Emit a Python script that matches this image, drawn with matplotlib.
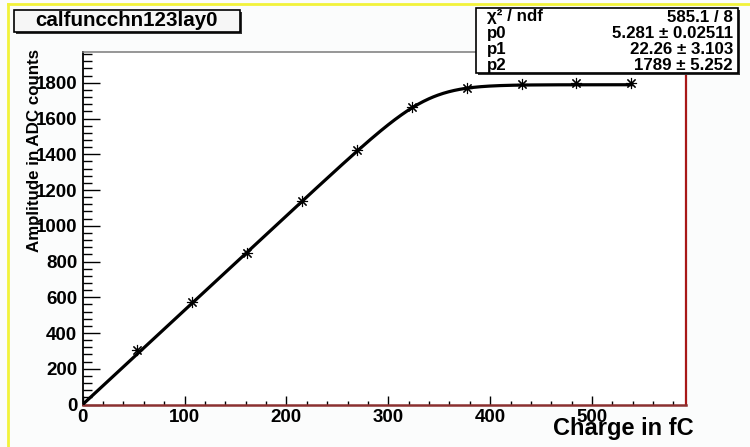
import numpy as np
import matplotlib.pyplot as plt
from matplotlib.patches import Rectangle
from matplotlib.lines import Line2D

# measured calibration points
charge = [53.8, 107.7, 161.5, 215.4, 269.2, 323.1, 376.9, 430.8, 484.6, 538.5]
amplitude = [305, 572, 849, 1138, 1423, 1662, 1768, 1791, 1796, 1800]

# fit result
fit_names = ['p0', 'p1', 'p2']
fit_values = [5.281, 22.26, 1789]
fit_labels = ['5.281', '22.26', '1789']
fit_errors = ['0.02511', '3.103', '5.252']
chi2_ndf = '585.1 / 8'

x_ticks = [0, 100, 200, 300, 400, 500]
y_ticks = [0, 200, 400, 600, 800, 1000, 1200, 1400, 1600, 1800]

plt.rcParams['font.family'] = ['Liberation Sans', 'DejaVu Sans']
plt.rcParams['font.weight'] = 'bold'

W, H = 750, 447
fig = plt.figure(figsize=(W / 100, H / 100), dpi=100)
fig.patch.set_facecolor('#fbfcfc')

def fx(px):
    return px / W

def fy(py):
    return 1 - py / H

# canvas border lines
fig.add_artist(Line2D([fx(8), fx(8)], [0, fy(4)], color='#f2f23a', lw=2))
fig.add_artist(Line2D([fx(8), 1], [fy(4), fy(4)], color='#f2f23a', lw=2))

ax = fig.add_axes([fx(82.7), fy(404.5), fx(685.7) - fx(82.7), fy(51.5) - fy(404.5)])
ax.set_facecolor('white')

# smoothed linear response with saturation
p0, p1, p2 = fit_values
knee = p2 / p0
xs = np.linspace(0, charge[-1], 500)
ys = p0 * xs - p0 * p1 * np.logaddexp(0, (xs - knee) / p1)
ax.plot(xs, ys, color='black', lw=2.3, zorder=3)
ax.plot(charge, amplitude, ls='none', marker=(8, 2, 0), ms=8, mew=0.8,
        color='black', zorder=4)

ax.set_xlim(0, 592)
ax.set_ylim(0, 1975)
ax.set_xticks(x_ticks)
ax.set_yticks(y_ticks)
ax.set_xticks(np.arange(0, 592, 20), minor=True)
ax.set_yticks(np.arange(0, 1975, 40), minor=True)
ax.tick_params(axis='y', which='major', direction='in', length=12.5, width=1,
               labelsize=13.5, pad=4)
ax.tick_params(axis='y', which='minor', direction='in', length=6.5, width=1)
ax.tick_params(axis='x', which='major', direction='in', length=6.5, width=1,
               labelsize=13.5, pad=3)
ax.tick_params(axis='x', which='minor', direction='in', length=3.2, width=1)

ax.spines['left'].set_color('black')
ax.spines['left'].set_linewidth(1.3)
ax.spines['bottom'].set_color('#8b3030')
ax.spines['bottom'].set_linewidth(1.8)
ax.spines['right'].set_color('#a81818')
ax.spines['right'].set_linewidth(1.6)
ax.spines['top'].set_color('#7a7a7a')
ax.spines['top'].set_linewidth(1.1)

fig.text(fx(35), fy(150), 'Amplitude in ADC counts', rotation=90,
         ha='center', va='center', fontsize=12.2)
fig.text(fx(694), fy(429), 'Charge in fC', ha='right', va='center', fontsize=17)

# title box
fig.add_artist(Rectangle((fx(16), fy(34)), fx(226), fy(10) - fy(32),
                         facecolor='#333333', edgecolor='none', zorder=5))
fig.add_artist(Rectangle((fx(14), fy(32)), fx(226), fy(10) - fy(32),
                         facecolor='#f6f6f6', edgecolor='black', lw=1.2, zorder=6))
fig.text(fx(127), fy(21), 'calfuncchn123lay0', ha='center', va='center',
         fontsize=14.8, zorder=7)

# fit statistics box
fig.add_artist(Rectangle((fx(478), fy(75)), fx(262), fy(8) - fy(73),
                         facecolor='#333333', edgecolor='none', zorder=5))
fig.add_artist(Rectangle((fx(476), fy(73)), fx(262), fy(8) - fy(73),
                         facecolor='white', edgecolor='black', lw=1.2, zorder=6))
rows = [('χ² / ndf', chi2_ndf)]
for name, val, err in zip(fit_names, fit_labels, fit_errors):
    rows.append((name, f'{val} ± {err}'))
for i, (left, right) in enumerate(rows):
    y = fy(17 + 16.3 * i)
    fig.text(fx(487), y, left, ha='left', va='center', fontsize=12.2, zorder=7)
    fig.text(fx(733), y, right, ha='right', va='center', fontsize=12.2, zorder=7)

fig.savefig('out.png', dpi=100, facecolor=fig.get_facecolor())
